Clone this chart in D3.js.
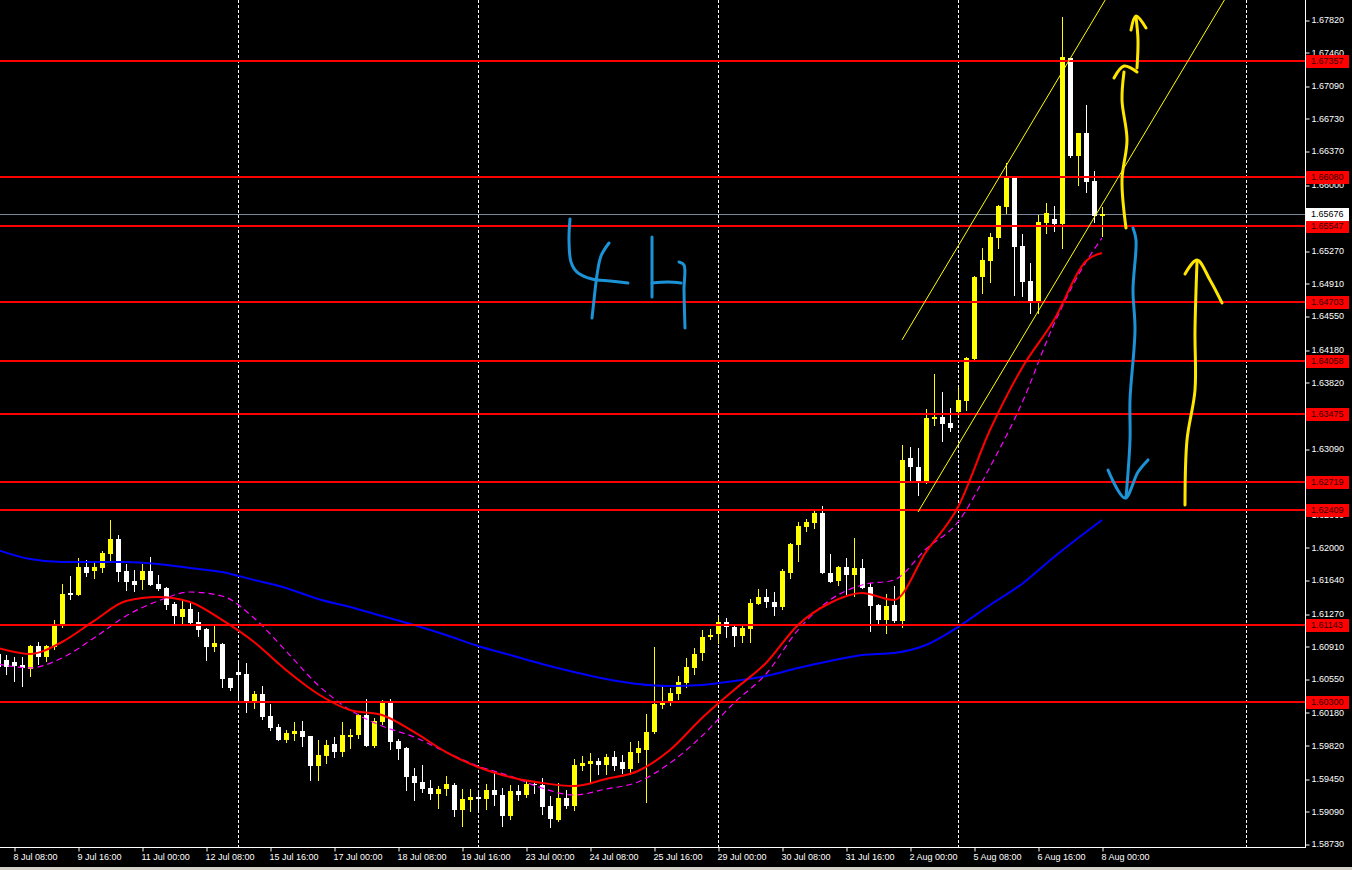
<!DOCTYPE html>
<html lang="en">
<head>
<meta charset="UTF-8">
<title>GBPCAD H4</title>
<script src="https://d3js.org/d3.v7.min.js"></script>
<style>
    body{margin:0;background:#000;overflow:hidden;}
    svg text{font-family:"Liberation Sans",Arial,sans-serif;font-size:9px;}
</style>
</head>
<body>
<svg id="chart" width="1352" height="870"></svg>
<script>
// 4H candles, oldest first
let opens = [1.60825,1.60759,1.60737,1.60704,1.60660,1.60913,1.60792,1.60902,1.61145,1.61497,
    1.61475,1.61784,1.61740,1.61773,1.61927,1.62093,1.61740,1.61630,1.61641,1.61740,
    1.61597,1.61553,1.61376,1.61233,1.61321,1.61178,1.61100,1.60902,1.60935,1.60560,
    1.60626,1.60604,1.60285,1.60384,1.60141,1.60020,1.59877,1.59943,1.59976,1.59921,
    1.59590,1.59700,1.59833,1.59744,1.59910,1.59932,1.60152,1.59811,1.60075,1.60307,
    1.59866,1.59788,1.59480,1.59414,1.59347,1.59281,1.59336,1.59381,1.59105,1.59215,
    1.59248,1.59226,1.59325,1.59270,1.59039,1.59314,1.59270,1.59392,1.59381,1.59149,
    1.58995,1.59237,1.59149,1.59590,1.59612,1.59645,1.59601,1.59689,1.59634,1.59557,
    1.59733,1.59766,1.59965,1.60263,1.60307,1.60384,1.60505,1.60671,1.60836,1.61012,
    1.61045,1.61178,1.61122,1.61023,1.61100,1.61376,1.61453,1.61398,1.61343,1.61718,
    1.62027,1.62225,1.62269,1.62379,1.61718,1.61630,1.61784,1.61696,1.61773,1.61564,
    1.61365,1.61200,1.61365,1.61189,1.62986,1.62886,1.62732,1.63416,1.63438,1.63372,
    1.63493,1.63614,1.64077,1.64981,1.65158,1.65411,1.65753,1.66073,1.65323,1.64937,
    1.64706,1.65577,1.65621,1.65566,1.67396,1.66315,1.66569,1.66040,1.65654]
let highs = [1.60869,1.60814,1.60792,1.60792,1.60924,1.60957,1.60924,1.61200,1.61597,1.61685,
    1.61883,1.61861,1.61828,1.61960,1.62302,1.62137,1.61817,1.61751,1.61817,1.61894,
    1.61696,1.61564,1.61398,1.61420,1.61387,1.61288,1.61111,1.61133,1.60946,1.60560,
    1.60726,1.60726,1.60417,1.60472,1.60274,1.60053,1.59987,1.60075,1.60086,1.59921,
    1.59877,1.59877,1.59910,1.60075,1.59998,1.60163,1.60329,1.60119,1.60318,1.60329,
    1.59888,1.59800,1.59568,1.59601,1.59436,1.59369,1.59480,1.59403,1.59336,1.59336,
    1.59292,1.59392,1.59513,1.59347,1.59381,1.59381,1.59436,1.59425,1.59458,1.59259,
    1.59403,1.59325,1.59667,1.59700,1.59733,1.59678,1.59722,1.59755,1.59711,1.59855,
    1.59866,1.60163,1.60902,1.60461,1.60450,1.60582,1.60781,1.60891,1.61089,1.61100,
    1.61233,1.61222,1.61156,1.61133,1.61431,1.61542,1.61542,1.61508,1.61762,1.62049,
    1.62280,1.62313,1.62401,1.62457,1.61927,1.61795,1.61883,1.62104,1.61872,1.61608,
    1.61376,1.61486,1.61575,1.63129,1.63107,1.63096,1.63526,1.63912,1.63713,1.63537,
    1.63769,1.64099,1.64992,1.65301,1.65466,1.65775,1.66238,1.66073,1.65455,1.65136,
    1.65665,1.65797,1.65764,1.67848,1.67396,1.66569,1.66877,1.66150,1.65753]
let lows = [1.60626,1.60604,1.60527,1.60472,1.60582,1.60715,1.60748,1.60880,1.61122,1.61431,
    1.61475,1.61685,1.61663,1.61729,1.61850,1.61630,1.61530,1.61519,1.61542,1.61586,
    1.61530,1.61321,1.61156,1.61156,1.61156,1.61023,1.60759,1.60858,1.60461,1.60428,
    1.60318,1.60185,1.60229,1.60108,1.59987,1.59877,1.59855,1.59877,1.59811,1.59436,
    1.59436,1.59623,1.59689,1.59700,1.59788,1.59899,1.59811,1.59800,1.60053,1.59777,
    1.59667,1.59325,1.59215,1.59303,1.59226,1.59127,1.59270,1.59039,1.58929,1.59094,
    1.59094,1.59116,1.59160,1.58929,1.59006,1.59215,1.59248,1.59292,1.59061,1.58918,
    1.58984,1.59127,1.59105,1.59546,1.59414,1.59502,1.59502,1.59546,1.59513,1.59502,
    1.59634,1.59193,1.59954,1.60229,1.60263,1.60329,1.60461,1.60604,1.60759,1.60990,
    1.60946,1.61012,1.60913,1.60957,1.60957,1.61376,1.61343,1.61255,1.61321,1.61663,
    1.61850,1.62181,1.62214,1.61718,1.61619,1.61586,1.61464,1.61464,1.61553,1.61078,
    1.61156,1.61056,1.61178,1.61122,1.62743,1.62578,1.62710,1.63350,1.63173,1.63283,
    1.63460,1.63515,1.64066,1.64805,1.64926,1.65301,1.65687,1.64783,1.64772,1.64584,
    1.64584,1.65466,1.65488,1.65301,1.66304,1.65995,1.65918,1.65588,1.65433]
let closes = [1.60682,1.60682,1.60693,1.60671,1.60913,1.60792,1.60913,1.61145,1.61486,1.61475,
    1.61784,1.61718,1.61784,1.61938,1.62093,1.61729,1.61619,1.61586,1.61740,1.61586,
    1.61542,1.61365,1.61244,1.61321,1.61167,1.61089,1.60902,1.60946,1.60549,1.60450,
    1.60593,1.60285,1.60384,1.60130,1.60009,1.59877,1.59954,1.59976,1.59910,1.59590,
    1.59711,1.59822,1.59744,1.59932,1.59932,1.60152,1.59811,1.60086,1.60307,1.59855,
    1.59777,1.59469,1.59403,1.59336,1.59281,1.59336,1.59392,1.59105,1.59226,1.59248,
    1.59226,1.59325,1.59270,1.59039,1.59314,1.59270,1.59392,1.59381,1.59138,1.59006,
    1.59237,1.59149,1.59601,1.59623,1.59645,1.59601,1.59689,1.59590,1.59557,1.59744,
    1.59788,1.59965,1.60274,1.60307,1.60395,1.60516,1.60682,1.60825,1.61012,1.61034,
    1.61178,1.61122,1.61023,1.61111,1.61387,1.61453,1.61398,1.61343,1.61740,1.62038,
    1.62236,1.62280,1.62379,1.61718,1.61619,1.61784,1.61696,1.61773,1.61553,1.61354,
    1.61200,1.61354,1.61189,1.62964,1.62886,1.62732,1.63427,1.63438,1.63361,1.63317,
    1.63625,1.64088,1.64981,1.65169,1.65422,1.65764,1.66073,1.65312,1.64926,1.64706,
    1.65588,1.65687,1.65566,1.67407,1.66315,1.66569,1.66029,1.65654,1.65676]

// moving averages, read every 4th bar (last one is the final bar)
let maRed = [1.60891,1.60825,1.60957,1.61189,1.61409,1.61453,1.61398,1.61200,1.60957,1.60648,
    1.60384,1.60207,1.60152,1.59965,1.59744,1.59579,1.59469,1.59403,1.59369,1.59447,
    1.59535,1.59766,1.60119,1.60428,1.60726,1.61145,1.61387,1.61497,1.61420,1.61949,
    1.62445,1.63294,1.63978,1.64507,1.65158,1.65246]
let maMagenta = [1.60715,1.60671,1.60781,1.61001,1.61244,1.61409,1.61508,1.61464,1.61222,1.60858,
    1.60483,1.60207,1.60031,1.59910,1.59744,1.59590,1.59480,1.59347,1.59270,1.59336,
    1.59414,1.59623,1.59921,1.60285,1.60604,1.61089,1.61420,1.61586,1.61641,1.61982,
    1.62280,1.62886,1.63592,1.64463,1.65147,1.65411]
let maBlue = [1.61971,1.61872,1.61839,1.61839,1.61839,1.61817,1.61773,1.61729,1.61641,1.61553,
    1.61431,1.61343,1.61244,1.61145,1.61034,1.60913,1.60814,1.60715,1.60626,1.60549,
    1.60494,1.60472,1.60483,1.60527,1.60582,1.60671,1.60748,1.60814,1.60836,1.60924,
    1.61122,1.61365,1.61597,1.61894,1.62170,1.62302]

let levels = [1.67357,1.66080,1.65547,1.64703,1.64058,1.63475,1.62719,1.62409,1.61143,1.60300]
let lastPrice = 1.65676

// 1.65640 and 1.62730 sit fully under the price boxes, so they are left out
let priceTicks = [1.67820,1.67460,1.67090,1.66730,1.66370,1.66000,1.65270,1.64910,1.64550,
    1.64180,1.63820,1.63450,1.63090,1.62360,1.62000,1.61640,1.61270,1.60910,
    1.60550,1.60180,1.59820,1.59450,1.59090,1.58730]
let timeLabels = ["8 Jul 08:00","9 Jul 16:00","11 Jul 00:00","12 Jul 08:00","15 Jul 16:00",
    "17 Jul 00:00","18 Jul 08:00","19 Jul 16:00","23 Jul 00:00","24 Jul 08:00","25 Jul 16:00",
    "29 Jul 00:00","30 Jul 08:00","31 Jul 16:00","2 Aug 00:00","5 Aug 08:00","6 Aug 16:00","8 Aug 00:00"]
let gridBars = [30,60,90,120,156]

// trend channel: [bar, price] pairs
let channel = [
    [[113,1.64287],[138.4,1.68035]],
    [[115,1.62390],[153.3,1.68035]]
]
// hand drawn notes, [bar, price]
let blueNotes = [
    [[71.5,1.65621],[71.375,1.65389],[71.625,1.65147],[72.375,1.65036],[74.25,1.64959],[76.5,1.64937],[78.75,1.64915]],
    [[76.375,1.65356],[75.375,1.65213],[74.875,1.65003],[74.5,1.64728],[74.25,1.64529]],
    [[81.75,1.65422],[81.75,1.65114],[81.75,1.64761]],
    [[81.75,1.64915],[83.75,1.64926],[85.375,1.64915]],
    [[85.125,1.65147],[85.75,1.65114],[85.75,1.64838],[85.875,1.64419]],
    [[141.875,1.65521],[142.25,1.65389],[141.875,1.64838],[142.125,1.64397],[141.5,1.63625],[141.5,1.63184],[141,1.62545]],
    [[138.75,1.62853],[140.875,1.62545],[142.5,1.62831],[143.75,1.62964]]
]
let yellowNotes = [
    [[142.375,1.67285],[142.5,1.67594],[142.25,1.67848]],
    [[141.625,1.67704],[142.25,1.67859],[143.5,1.67726]],
    [[141,1.65521],[140.5,1.66051],[141.125,1.66492],[140.5,1.66933],[140.75,1.67241]],
    [[139.5,1.67175],[140.75,1.67307],[142.375,1.67241]],
    [[148.375,1.62468],[148.625,1.63184],[149.625,1.63735],[149.625,1.64397],[149.875,1.65147]],
    [[148.375,1.65014],[149.875,1.65169],[151.5,1.64948],[153,1.64695]]
]

let candles = d3.range(opens.length).map(i => ({i:i, o:opens[i], h:highs[i], l:lows[i], c:closes[i]}))
let maBars = d3.range(0, 137, 4).concat([138])

let svg = d3.select("#chart")
let plotR = 1305, plotB = 847

svg.append("rect").attr("width",1352).attr("height",870).attr("fill","#000")
svg.append("rect").attr("y",867).attr("width",1352).attr("height",3).attr("fill","#d4d0c8")

let x = d3.scaleLinear().domain([0,138]).range([-2,1102])
let y = d3.scaleLinear().domain([1.58730,1.67820]).range([844,19.5])
let px = v => Math.round(x(v))
let py = v => Math.round(y(v))

svg.append("clipPath").attr("id","plot")
    .append("rect").attr("width",plotR).attr("height",plotB)
let plot = svg.append("g").attr("clip-path","url(#plot)")

// grid
plot.selectAll(".grid").data(gridBars).enter().append("line")
    .attr("x1",d=>px(d)+0.5).attr("x2",d=>px(d)+0.5)
    .attr("y1",0).attr("y2",plotB)
    .attr("stroke","#fff").attr("stroke-dasharray","3,2")

// bid line
plot.append("line").attr("x1",0).attr("x2",plotR)
    .attr("y1",py(lastPrice)+0.5).attr("y2",py(lastPrice)+0.5)
    .attr("stroke","#778899")

// candles
let cg = plot.selectAll(".candle").data(candles).enter().append("g")
cg.append("line")
    .attr("x1",d=>px(d.i)+0.5).attr("x2",d=>px(d.i)+0.5)
    .attr("y1",d=>py(d.h)).attr("y2",d=>py(d.l)+1)
    .attr("stroke",d=>d.c>=d.o?"#ffff00":"#ffffff")
cg.append("rect")
    .attr("x",d=>px(d.i)-2).attr("width",5)
    .attr("y",d=>py(Math.max(d.o,d.c)))
    .attr("height",d=>Math.max(1,py(Math.min(d.o,d.c))-py(Math.max(d.o,d.c))))
    .attr("fill",d=>d.c>=d.o?"#ffff00":"#ffffff")

// moving averages
let maLine = d3.line().x((d,k)=>x(maBars[k])).y(d=>y(d)).curve(d3.curveMonotoneX)
plot.append("path").attr("d",maLine(maBlue)).attr("fill","none").attr("stroke","#0000ff").attr("stroke-width",2)
plot.append("path").attr("d",maLine(maMagenta)).attr("fill","none").attr("stroke","#ff00ff").attr("stroke-width",1.2).attr("stroke-dasharray","6,4")
plot.append("path").attr("d",maLine(maRed)).attr("fill","none").attr("stroke","#ff0000").attr("stroke-width",2)

// levels
plot.selectAll(".lvl").data(levels).enter().append("line")
    .attr("x1",0).attr("x2",plotR)
    .attr("y1",d=>py(d)).attr("y2",d=>py(d))
    .attr("stroke","#ff0000").attr("stroke-width",2)

// trend channel
let segLine = d3.line().x(d=>x(d[0])).y(d=>y(d[1]))
plot.selectAll(".chan").data(channel).enter().append("path")
    .attr("d",segLine).attr("stroke","#ffff00").attr("fill","none")

// notes
let noteLine = d3.line().x(d=>x(d[0])).y(d=>y(d[1])).curve(d3.curveCatmullRom)
plot.selectAll(".nb").data(blueNotes).enter().append("path")
    .attr("d",noteLine).attr("fill","none").attr("stroke","#1c93d6")
    .attr("stroke-width",3).attr("stroke-linecap","round").attr("stroke-linejoin","round")
plot.selectAll(".ny").data(yellowNotes).enter().append("path")
    .attr("d",noteLine).attr("fill","none").attr("stroke","#ffe600")
    .attr("stroke-width",3).attr("stroke-linecap","round").attr("stroke-linejoin","round")

// price axis
let yAxis = svg.append("g").attr("transform","translate("+(plotR+0.5)+",0)")
    .call(d3.axisRight(y).tickValues(priceTicks).tickSize(4).tickFormat(d3.format(".5f")))
yAxis.select(".domain").remove()
yAxis.selectAll("line").attr("stroke","#fff").attr("transform",d=>"translate(0,"+(py(d)-y(d)+0.5)+")")
yAxis.selectAll("text").attr("fill","#fff").attr("x",6).attr("font-size",9)
svg.append("line").attr("x1",plotR+0.5).attr("x2",plotR+0.5).attr("y1",0).attr("y2",plotB+1).attr("stroke","#fff")

// level labels
let lab = svg.selectAll(".lab").data(levels).enter().append("g")
    .attr("transform",d=>"translate(1306,"+py(d)+")")
lab.append("rect").attr("y",-6).attr("width",43).attr("height",13).attr("fill","#ff0000")
lab.append("text").attr("x",5).attr("dy","0.35em").attr("fill","#300").text(d3.format(".5f"))
let bid = svg.append("g").attr("transform","translate(1306,"+py(lastPrice)+")")
bid.append("rect").attr("y",-6).attr("width",43).attr("height",13).attr("fill","#fff")
bid.append("text").attr("x",5).attr("dy","0.35em").attr("fill","#000").text(d3.format(".5f")(lastPrice))

// time axis
let tickBars = timeLabels.map((d,k)=>2+8*k)
let xAxis = svg.append("g").attr("transform","translate(0,"+(plotB+0.5)+")")
    .call(d3.axisBottom(x).tickValues(tickBars).tickSize(4).tickFormat((d,k)=>timeLabels[k]))
xAxis.select(".domain").remove()
xAxis.selectAll("line").attr("stroke","#fff").attr("transform",d=>"translate("+(px(d)-x(d)+0.5)+",0)")
xAxis.selectAll("text").attr("fill","#fff").attr("text-anchor","start").attr("x",-1).attr("y",6)
svg.append("line").attr("x1",0).attr("x2",plotR+1).attr("y1",plotB+0.5).attr("y2",plotB+0.5).attr("stroke","#fff")
</script>
</body>
</html>
